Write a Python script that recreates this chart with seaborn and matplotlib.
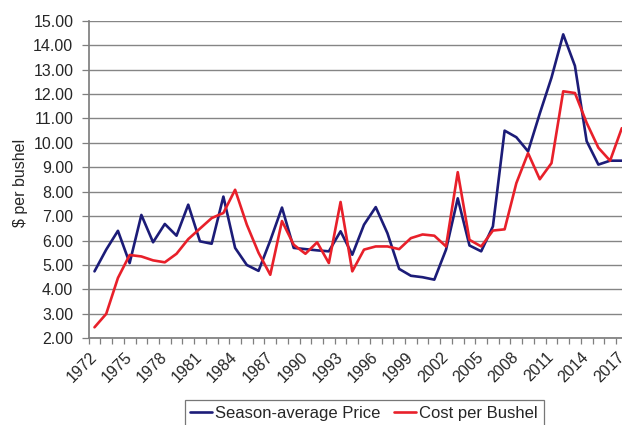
import pandas as pd
import seaborn as sns
import matplotlib.pyplot as plt
from matplotlib.lines import Line2D
from matplotlib.ticker import MultipleLocator, FormatStrFormatter

# data
years = list(range(1972, 2018))
price = [4.74, 5.63, 6.40, 5.08, 7.05, 5.93, 6.68, 6.20, 7.47, 5.97, 5.87, 7.80, 5.70, 5.00, 4.76,
         6.00, 7.35, 5.70, 5.65, 5.60, 5.56, 6.38, 5.42, 6.65, 7.37, 6.30, 4.84, 4.56, 4.50, 4.40,
         5.63, 7.73, 5.80, 5.56, 6.58, 10.50, 10.23, 9.65, 11.20, 12.67, 14.44, 13.15, 10.07, 9.11, 9.27, 9.27]
cost = [2.45, 3.00, 4.47, 5.41, 5.35, 5.19, 5.11, 5.46, 6.06, 6.49, 6.92, 7.13, 8.08, 6.65, 5.50,
        4.60, 6.80, 5.83, 5.46, 5.93, 5.08, 7.58, 4.74, 5.63, 5.76, 5.76, 5.65, 6.10, 6.25, 6.20,
        5.76, 8.80, 6.03, 5.76, 6.41, 6.46, 8.35, 9.58, 8.51, 9.17, 12.11, 12.04, 10.82, 9.80, 9.27, 10.60]
series_names = ["Season-average Price", "Cost per Bushel"]
colors = ["#1c1c78", "#e8202a"]
label_years = list(range(1972, 2018, 3))

df = pd.DataFrame({"year": years * 2,
                   "value": price + cost,
                   "series": [series_names[0]] * len(years) + [series_names[1]] * len(years)})

sns.set_theme(style="white")
plt.rcParams["font.family"] = ["Liberation Sans", "DejaVu Sans"]

fig = plt.figure(figsize=(6.22, 4.25), dpi=100)
ax = fig.add_axes([0.1425, 0.204, 0.8666, 0.7473])

sns.lineplot(data=df, x="year", y="value", hue="series", palette=colors,
             linewidth=1.9, ax=ax, legend=False)

ax.set_xlim(1971.5, 2017.5)
ax.set_ylim(2, 15)
ax.yaxis.set_major_locator(MultipleLocator(1))
ax.yaxis.set_major_formatter(FormatStrFormatter("%.2f"))
ax.grid(axis="y", color="#858585", linewidth=1.0)
ax.set_axisbelow(True)

ax.set_xticks(label_years)
ax.set_xticklabels([str(y) for y in label_years], rotation=45, ha="right",
                   va="center", rotation_mode="anchor", fontsize=11.5)
ax.set_xticks([y - 0.5 for y in years] + [2017.5], minor=True)
ax.tick_params(axis="x", which="major", length=0, pad=12)
ax.tick_params(axis="x", which="minor", length=4, width=0.9, color="#7f7f7f", direction="out", bottom=True)
ax.tick_params(axis="y", length=5, width=0.9, color="#7f7f7f", direction="out", left=True,
               labelsize=11.5, pad=6)

for side in ["top", "right"]:
    ax.spines[side].set_visible(False)
ax.spines["left"].set_color("#7f7f7f")
ax.spines["bottom"].set_color("#7f7f7f")
ax.set_xlabel("")
ax.set_ylabel("")

fig.text(21 / 622, 1 - 183 / 425, "$ per bushel", rotation=90, ha="center", va="center",
         fontsize=11.5)

handles = [Line2D([], [], color=c, linewidth=1.9) for c in colors]
leg = fig.legend(handles, series_names, loc="upper center", bbox_to_anchor=(364 / 622, 1 - 400 / 425),
                 ncol=2, frameon=True, fancybox=False, edgecolor="#555555", fontsize=12,
                 handlelength=1.3, handletextpad=0.2, columnspacing=0.8, borderpad=0.35,
                 borderaxespad=0)
leg.get_frame().set_linewidth(0.9)

fig.savefig("out.png", dpi=100)
